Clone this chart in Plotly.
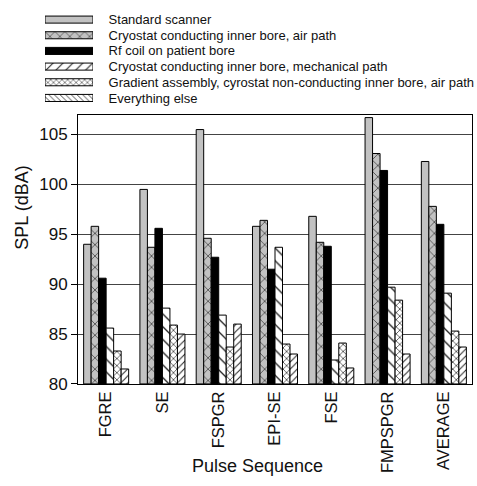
import plotly.graph_objects as go

categories = ["FGRE", "SE", "FSPGR", "EPI-SE", "FSE", "FMPSPGR", "AVERAGE"]
series_names = [
    "Standard scanner",
    "Cryostat conducting inner bore, air path",
    "Rf coil on patient bore",
    "Cryostat conducting inner bore, mechanical path",
    "Gradient assembly, cyrostat non-conducting inner bore, air path",
    "Everything else",
]
standard = [94.0, 99.5, 105.5, 95.8, 96.8, 106.7, 102.3]
cryo_air = [95.8, 93.7, 94.6, 96.4, 94.2, 103.1, 97.8]
rf_coil = [90.6, 95.6, 92.7, 91.5, 93.8, 101.4, 96.0]
cryo_mech = [85.6, 87.6, 86.9, 93.7, 82.4, 89.7, 89.1]
gradient = [83.3, 85.9, 83.7, 84.0, 84.1, 88.4, 85.3]
everything_else = [81.5, 85.0, 86.0, 83.0, 81.6, 83.0, 83.7]
y_ticks = [80, 85, 90, 95, 100, 105]

values = [standard, cryo_air, rf_coil, cryo_mech, gradient, everything_else]

GRAY = "#c2c2c2"
# style per series: (fill colour, pattern shape, pattern size, solidity)
bar_styles = [
    (GRAY, "", 8, 0.2),
    (GRAY, "x", 8, 0.15),
    ("#000000", "", 8, 0.2),
    ("#ffffff", "\\", 9, 0.15),
    ("#ffffff", "x", 5, 0.25),
    ("#ffffff", "/", 5, 0.2),
]
# the printed legend draws the two single-hatch swatches mirrored
legend_styles = [
    (GRAY, "", 6, 0.2),
    (GRAY, "x", 7, 0.15),
    ("#000000", "", 6, 0.2),
    ("#ffffff", "/", 7, 0.15),
    ("#ffffff", "x", 4, 0.25),
    ("#ffffff", "\\", 4, 0.2),
]

font = "Arial, Liberation Sans, Helvetica, sans-serif"
W, H = 477, 486
fig = go.Figure()
for name, vals, (col, shp, sz, sol) in zip(series_names, values, bar_styles):
    fig.add_trace(go.Bar(
        x=categories, y=[v - 80 for v in vals], base=80, name=name,
        xaxis="x", yaxis="y", showlegend=False,
        marker=dict(color=col, line=dict(color="#000", width=1),
                    pattern=dict(shape=shp, fgcolor="#222", bgcolor=col, size=sz,
                                 solidity=sol, fillmode="replace")),
    ))

# legend drawn as a small horizontal bar chart
for name, (col, shp, sz, sol) in zip(series_names, legend_styles):
    fig.add_trace(go.Bar(
        y=[name], x=[1], orientation="h", name=name,
        xaxis="x2", yaxis="y2", showlegend=False, width=0.45, offset=-0.225,
        hoverinfo="y",
        marker=dict(color=col, line=dict(color="#000", width=1),
                    pattern=dict(shape=shp, fgcolor="#222", bgcolor=col, size=sz,
                                 solidity=sol, fillmode="replace")),
    ))

fig.update_layout(
    width=W, height=H,
    margin=dict(l=0, r=0, t=0, b=0),
    paper_bgcolor="white", plot_bgcolor="white",
    barmode="group", bargap=0.2, bargroupgap=0,
    font=dict(family=font, color="#111"),
    xaxis=dict(domain=[78 / W, 472 / W], anchor="y", tickangle=-90, tickfont=dict(size=16.5),
               showline=True, linecolor="#000", mirror=True, ticks="", showgrid=False),
    yaxis=dict(domain=[1 - 392 / H, 1 - 117 / H], anchor="x", range=[80, 107], tickvals=y_ticks,
               tickfont=dict(size=17), showline=True, linecolor="#000", mirror=True,
               showgrid=True, gridcolor="#444", gridwidth=1, zeroline=False,
               ticks="outside", ticklen=6, tickcolor="#000"),
    xaxis2=dict(domain=[45 / W, 93 / W], anchor="y2", range=[0, 1], visible=False),
    yaxis2=dict(domain=[1 - 108 / H, 1 - 12 / H], anchor="x2", autorange="reversed",
                side="right", showline=False, showgrid=False, zeroline=False,
                tickmode="array", tickvals=series_names, ticktext=series_names,
                ticks="outside", ticklen=12, tickcolor="rgba(0,0,0,0)",
                tickfont=dict(size=13)),
    annotations=[
        dict(text="Pulse Sequence", xref="paper", yref="paper", x=257 / W, y=1 - 476 / H,
             showarrow=False, font=dict(size=18), xanchor="center", yanchor="middle"),
        dict(text="SPL (dBA)", xref="paper", yref="paper", x=22 / W, y=1 - 212 / H,
             showarrow=False, font=dict(size=18), textangle=-90, xanchor="center", yanchor="middle"),
    ],
)
fig.write_html("out.html", config={"displayModeBar": False},
               post_script="document.body.style.margin='0';document.body.style.overflow='hidden';")
